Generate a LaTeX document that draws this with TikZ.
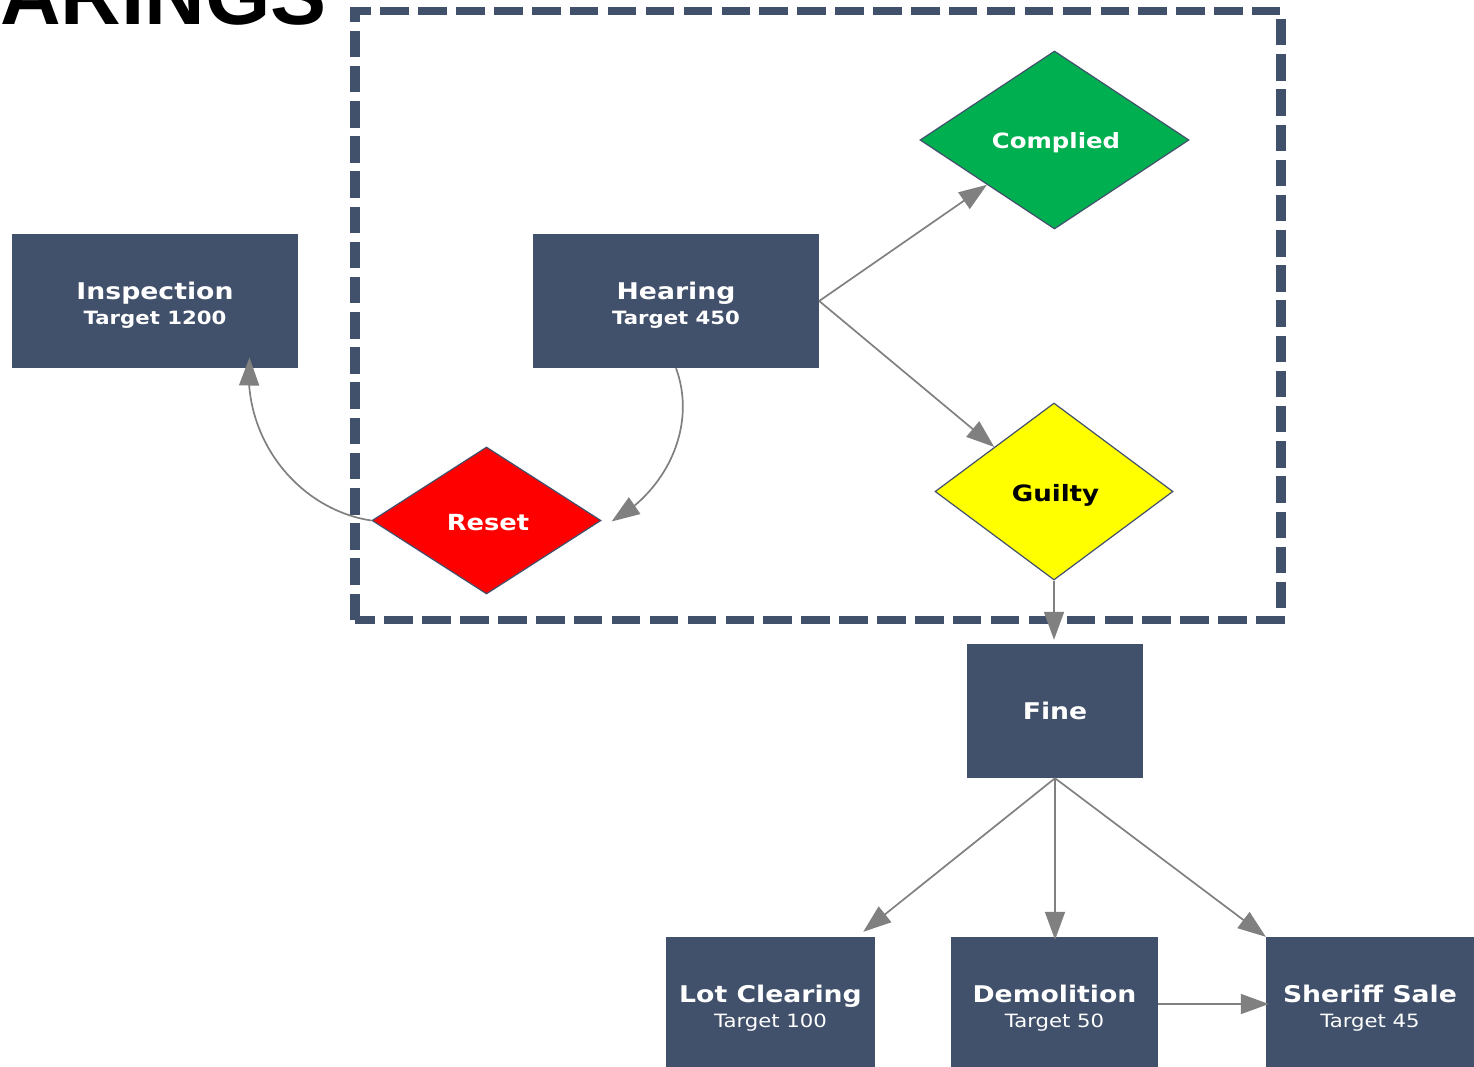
\documentclass[tikz,border=0pt]{standalone}
\usepackage{fontspec}
\usepackage{tikz}
\usetikzlibrary{shapes.geometric,arrows.meta,bending}
\setmainfont{Liberation Sans}
\newfontfamily\boxfont[FakeStretch=1.16]{DejaVu Sans}
\definecolor{slate}{HTML}{41506B}
\definecolor{okgreen}{HTML}{00B050}
\definecolor{warnyellow}{HTML}{FFFF00}
\tikzset{
    box/.style={fill=slate, text=white, align=center, inner sep=0pt, font=\boxfont\fontsize{23}{25}\selectfont},
    choice/.style={diamond, draw=slate, line width=1.2pt, inner sep=0pt, align=center},
    link/.style={draw=gray, line width=1.7pt, -{Triangle[length=28pt,width=20pt]}},
    frameh/.style={draw=slate, line width=8.7pt, dash pattern=on 28.5pt off 9.4pt},
    framev/.style={draw=slate, line width=9.5pt, dash pattern=on 26.5pt off 8.68pt},
}
\newcommand{\boxhead}[1]{{\bfseries #1}}
\newcommand{\boxtop}[1]{\rule{0pt}{25pt}{\bfseries #1}}
\newcommand{\boxgoal}[1]{{\fontsize{18.3}{25}\selectfont #1}}
\newcommand{\boxgoalb}[1]{{\fontsize{18.3}{25}\selectfont\bfseries #1}}
\newcommand{\choicetext}[3]{\hspace*{3pt}\rule{0pt}{#1}{\boxfont\fontsize{#2}{26}\selectfont\bfseries #3}}
\begin{document}
\begin{tikzpicture}[x=1pt, y=-1pt]
        \useasboundingbox (0,0) rectangle (1474,1067);
        \coordinate (TL) at (355,11);
        \coordinate (TR) at (1281,11);
        \coordinate (BL) at (355,620);
        \coordinate (BR) at (1281,620);

        % Title.
        \node[anchor=base west, inner sep=0pt, font=\fontsize{84}{84}\selectfont\bfseries] (title) at (0,25) {ARINGS};

        % Frame.
        \draw[frameh, dash phase=7.5pt] ([xshift=-5pt]TL) -- ([xshift=-1pt]TR);
        \draw[frameh, dash phase=8.5pt] (BL) -- ([xshift=5pt]BR);
        \draw[framev, dash phase=11.5pt] ([yshift=4pt]TL) -- (BL);
        \draw[framev] ([yshift=-8pt]TR) -- ([yshift=11.5pt]BR);

        % Boxes.
        \node[box, minimum width=286pt, minimum height=134pt] (inspection) at (155,301) {\boxtop{Inspection}\\\boxgoalb{Target 1200}};
        \node[box, minimum width=286pt, minimum height=134pt] (hearing) at (676,301) {\boxtop{Hearing}\\\boxgoalb{Target 450}};
        \node[box, minimum width=176pt, minimum height=134pt] (fine) at (1055,711) {\boxhead{Fine}};
        \node[box, minimum width=209pt, minimum height=134pt] (lot) at (770.5,1004) {\boxtop{Lot Clearing}\\\boxgoal{Target 100}};
        \node[box, minimum width=207pt, minimum height=134pt] (demolition) at (1054.5,1004) {\boxtop{Demolition}\\\boxgoal{Target 50}};
        \node[box, minimum width=208pt, minimum height=134pt] (sheriff) at (1370,1004) {\boxtop{Sheriff Sale}\\\boxgoal{Target 45}};

        % Decisions.
        \node[choice, fill=okgreen, text=white, minimum width=269pt, minimum height=178pt] (complied) at (1054.5,140) {\choicetext{21.5pt}{21}{Complied}};
        \node[choice, fill=warnyellow, text=black, minimum width=238pt, minimum height=177pt] (guilty) at (1054,491.5) {\choicetext{25.5pt}{22.5}{Guilty}};
        \node[choice, fill=red, text=white, minimum width=229pt, minimum height=147pt] (reset) at (486.5,520.5) {\choicetext{21pt}{22.2}{Reset}};

        % Links.
        \draw[link] (hearing.east) -- (complied.south west);
        \draw[link] (hearing.east) -- (guilty.north west);
        \draw[link, shorten >=4pt] (guilty.south) -- (guilty.south |- fine.north);
        \draw[link] (fine.south) -- ([shift={(-12,-5)}]lot.north east);
        \draw[link, shorten >=-3pt] (fine.south) -- (fine.south |- demolition.north);
        \draw[link] (fine.south) -- (sheriff.north west);
        \draw[link, shorten >=-3pt] (demolition.east) -- (sheriff.west);
        \draw[link] (hearing.south) .. controls (697,425) and (668,490) .. ([xshift=10pt,yshift=-1pt]reset.east);
        \draw[link] (reset.west) .. controls (300,510) and (241,440) .. ([shift={(-48.7,-10.7)}]inspection.south east);

    \end{tikzpicture}
\end{document}
